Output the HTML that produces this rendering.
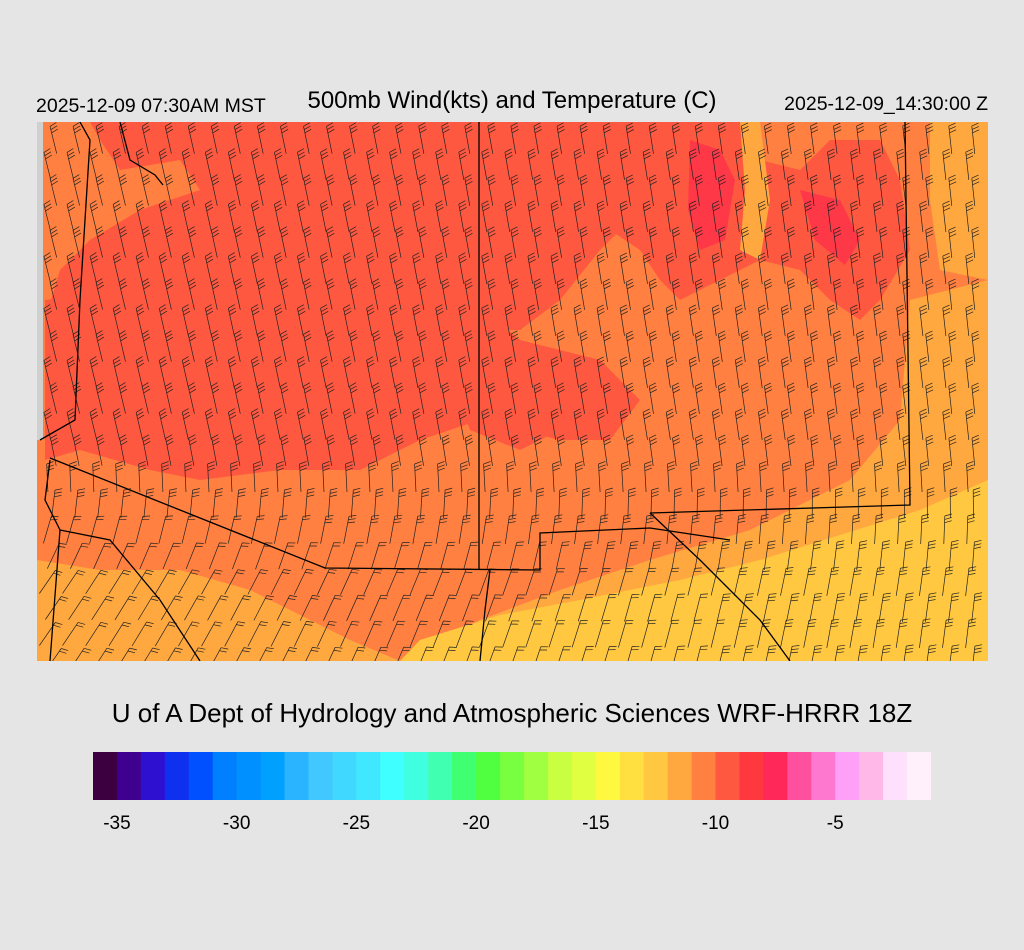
<!DOCTYPE html>
<html><head><meta charset="utf-8"><style>
html,body{margin:0;padding:0;background:#e5e5e5;}
body{width:1024px;height:950px;position:relative;overflow:hidden;font-family:"Liberation Sans",sans-serif;}
.t{position:absolute;color:#000;white-space:nowrap;}
</style></head><body>
<div class="t" style="left:36px;top:95px;font-size:19.5px;">2025-12-09 07:30AM MST</div>
<div class="t" style="left:0;width:1024px;top:87px;font-size:24px;text-align:center;">500mb Wind(kts) and Temperature (C)</div>
<div class="t" style="right:36px;top:93px;font-size:19.5px;">2025-12-09_14:30:00 Z</div>
<svg id="map" style="position:absolute;left:0;top:0" width="1024" height="950">
<defs><clipPath id="cp"><rect x="37" y="122" width="951" height="539"/></clipPath></defs>
<g clip-path="url(#cp)">
<rect x="37" y="122" width="951" height="539" fill="#ff8040"/>
<rect x="37" y="122" width="6" height="318" fill="#d0d0d0"/>
<rect x="976" y="470" width="12" height="191" fill="#d0d0d0"/>
<path d="M90,122 L640,122 L650,200 L600,250 L560,300 L520,330 L480,330 L470,300 L420,290 L350,300 L300,320 L250,330 L200,340 L170,360 L150,380 L120,420 L80,430 L45,420 L45,320 L60,270 L90,240 L140,210 L200,190 L180,160 L120,170 L100,140 Z" fill="#ff5840"/>
<path d="M45,300 L200,280 L300,260 L400,280 L470,300 L520,340 L600,360 L640,400 L610,440 L560,440 L480,420 L420,440 L360,470 L280,470 L200,480 L150,470 L80,450 L45,460 Z" fill="#ff5840"/>
<path d="M600,122 L740,122 L760,160 L800,170 L830,140 L880,140 L900,180 L910,250 L880,300 L860,320 L830,300 L800,270 L760,260 L720,280 L680,300 L660,280 L640,250 L610,230 L590,200 Z" fill="#ff5840"/>
<path d="M440,350 L520,380 L560,430 L520,450 L470,430 Z" fill="#ff5840"/>
<path d="M690,140 L720,150 L735,180 L725,240 L700,250 L688,210 Z" fill="#ff3848"/>
<path d="M800,190 L840,200 L860,240 L845,265 L815,240 Z" fill="#ff3848"/>
<path d="M37,560 L100,570 L180,570 L250,590 L350,640 L400,661 L37,661 Z" fill="#ffa840"/>
<path d="M400,661 L480,620 L560,590 L650,560 L750,530 L850,480 L900,420 L910,300 L988,280 L988,661 Z" fill="#ffa840"/>
<path d="M740,122 L760,122 L770,200 L760,260 L740,250 L745,190 Z" fill="#ffa840"/>
<path d="M930,122 L988,122 L988,280 L940,270 L930,200 Z" fill="#ffa840"/>
<path d="M400,661 L420,640 L500,615 L580,600 L680,580 L760,560 L840,535 L920,510 L988,480 L988,661 Z" fill="#ffc840"/>
<g id="barbs" stroke="#222" stroke-width="0.7" fill="none"></g>
<g stroke="#000" fill="none" stroke-width="1.3">
<path d="M479,122 L479,570"/>
<path d="M50,458 L325,568 L540,570 L540,533 L650,528 L730,540"/>
<path d="M650,513 L910,505 L905,122"/>
<path d="M80,122 L90,140 L80,300 L75,420 L40,440"/>
<path d="M50,460 L45,500 L60,530 L50,661"/>
<path d="M60,530 L110,540 L160,600 L200,661"/>
<path d="M490,570 L485,610 L480,661"/>
<path d="M650,513 L700,560 L760,620 L790,661"/>
<path d="M120,122 L130,160 L155,175 L163,185"/>
</g>
</g>
</svg>
<div class="t" style="left:0;width:1024px;top:698px;font-size:26px;text-align:center;">U of A Dept of Hydrology and Atmospheric Sciences WRF-HRRR 18Z</div>
<svg id="cb" style="position:absolute;left:93px;top:752px" width="838" height="48"></svg>
<div id="lab"></div>
<script>
var cols=["#3c0040","#3f0090","#2d10d0","#1030f0","#0050ff","#0080ff","#0090ff","#00a0ff","#2ab4ff","#40c8ff","#40d8ff","#40e8ff","#40ffff","#40ffe0","#40ffb0","#40ff70","#50ff40","#78ff40","#a0ff40","#c8ff40","#e0ff40","#fff840","#ffe040","#ffc840","#ffa840","#ff8040","#ff5840","#ff3840","#ff2858","#ff50a0","#ff78d0","#ffa0f8","#ffb8e8","#ffe0fc","#fff0fc"];
var cb=document.getElementById('cb'),s='',w=838/35;
cols.forEach(function(c,i){s+='<rect x="'+(i*w).toFixed(2)+'" y="0" width="'+(w+0.5).toFixed(2)+'" height="48" fill="'+c+'"/>';});
cb.innerHTML=s;
var labs=[-35,-30,-25,-20,-15,-10,-5],h='';
labs.forEach(function(v,i){var x=93+w*(1+i*5);h+='<div class="t" style="left:'+(x-30)+'px;width:60px;text-align:center;top:813px;font-size:19px;">'+v+'</div>';});
document.getElementById('lab').innerHTML=h;
var g=document.getElementById('barbs'),b='';
for(var y=140;y<680;y+=26){for(var x=45;x<1000;x+=23){
 var px=x+((y/26)%2)*6, py=y;
 var fy=(py-122)/540, fx=(px-37)/951;
 var south=Math.max(0,Math.min(1,(fy-0.6)/0.25))*(1-fx*0.7);
 var ang=(-14+(fx*8))*(1-south)+(35)*south;
 var a=ang*Math.PI/180, L=28;
 var dx=Math.sin(a)*L, dy=-Math.cos(a)*L;
 var x1=px+dx*0.5,y1=py+dy*0.5,x0=px-dx*0.5,y0=py-dy*0.5;
 b+='<path d="M'+x0.toFixed(1)+','+y0.toFixed(1)+'L'+x1.toFixed(1)+','+y1.toFixed(1);
 var n=south>0.5?2:3;
 for(var k=0;k<n;k++){var t=k*0.12;var bx=x1-dx*t,by=y1-dy*t;
  var fxv=Math.cos(a)*7, fyv=Math.sin(a)*7;
  b+='M'+bx.toFixed(1)+','+by.toFixed(1)+'l'+(fxv+dx*0.08).toFixed(1)+','+(fyv+dy*0.08).toFixed(1);}
 b+='"/>';
}}
g.innerHTML=b;
</script>
</body></html>
